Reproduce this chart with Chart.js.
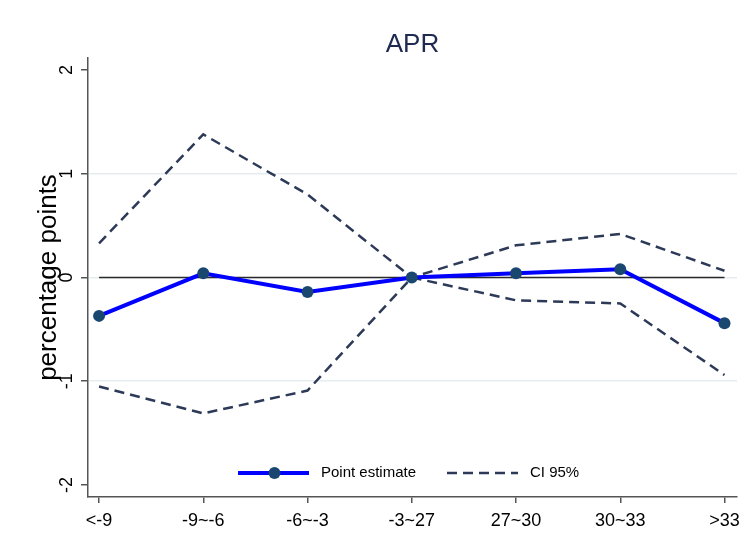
<!DOCTYPE html>
<html>
<head>
<meta charset="utf-8">
<script src="https://cdn.jsdelivr.net/npm/chart.js@4"></script>
<style>
  body { margin: 0; background: #fff; }
  #wrap { width: 751px; height: 551px; }
</style>
</head>
<body>
<div id="wrap"><canvas id="apr" width="751" height="551"></canvas></div>
<script>
// ===== Dados
const cats = ['<-9', '-9~-6', '-6~-3', '-3~27', '27~30', '30~33', '>33'];
const estimate = [-0.37, 0.04, -0.14, 0, 0.04, 0.08, -0.44];
const ciUpper = [0.33, 1.38, 0.80, 0, 0.31, 0.42, 0.065];
const ciLower = [-1.05, -1.31, -1.09, 0, -0.22, -0.25, -0.94];
const refLine = [0, 0, 0, 0, 0, 0, 0];
const yTicks = [-2, -1, 0, 1, 2];
const titleText = 'APR';
const yTitle = 'percentage points';

const FONT = "'Liberation Sans', Arial, sans-serif";
const AXIS = '#555';
const NAVY = '#1a476f';
const CI = '#2c3a58';

const pts = (arr) => arr.map((v, i) => ({ x: i, y: v }));

// ===== Textos: título, rótulos do eixo y e legenda
const decor = {
    id: 'decor',
    afterDraw(chart) {
        const { ctx, scales: { y } } = chart;
        ctx.save();
        // título
        ctx.fillStyle = '#1e2a50';
        ctx.font = `26px ${FONT}`;
        ctx.textAlign = 'center';
        ctx.textBaseline = 'alphabetic';
        ctx.fillText(titleText, (chart.chartArea.left + chart.chartArea.right) / 2, 52);

        // rótulos do eixo y (girados)
        ctx.fillStyle = '#000';
        ctx.font = `18px ${FONT}`;
        yTicks.forEach(v => {
            ctx.save();
            ctx.translate(71.5, y.getPixelForValue(v));
            ctx.rotate(-Math.PI / 2);
            ctx.fillText(String(v), 0, 0);
            ctx.restore();
        });

        // título do eixo y
        ctx.save();
        ctx.font = `26px ${FONT}`;
        ctx.translate(56, (chart.chartArea.top + chart.chartArea.bottom) / 2);
        ctx.rotate(-Math.PI / 2);
        ctx.fillText(yTitle, 0, 0);
        ctx.restore();

        // legenda
        const items = chart.data.datasets.filter(d => d.label);
        const starts = [238, 447];
        const ly = 473;
        ctx.font = `15px ${FONT}`;
        ctx.textAlign = 'left';
        ctx.textBaseline = 'middle';
        items.forEach((d, i) => {
            const x0 = starts[i];
            const x1 = x0 + 71;
            ctx.beginPath();
            ctx.strokeStyle = d.borderColor;
            ctx.lineWidth = d.borderWidth;
            ctx.setLineDash(d.borderDash || []);
            ctx.moveTo(x0, ly);
            ctx.lineTo(x1, ly);
            ctx.stroke();
            ctx.setLineDash([]);
            if (d.pointRadius) {
                ctx.beginPath();
                ctx.fillStyle = d.pointBackgroundColor;
                ctx.arc((x0 + x1) / 2 + 1, ly, d.pointRadius, 0, Math.PI * 2);
                ctx.fill();
            }
            ctx.fillStyle = '#000';
            ctx.fillText(d.label, x1 + 12, ly);
        });
        ctx.restore();
    }
};

new Chart(document.getElementById('apr'), {
    type: 'line',
    data: {
        datasets: [
            {
                label: 'Point estimate', data: pts(estimate), order: 0,
                borderColor: '#0000ff', borderWidth: 4, tension: 0,
                pointRadius: 6, pointBackgroundColor: NAVY, pointBorderWidth: 0
            },
            {
                label: 'CI 95%', data: pts(ciUpper), order: 1,
                borderColor: CI, borderWidth: 2.5, borderDash: [10, 6], pointRadius: 0, tension: 0
            },
            {
                label: '', data: pts(ciLower), order: 2,
                borderColor: CI, borderWidth: 2.5, borderDash: [10, 6], pointRadius: 0, tension: 0
            },
            {
                label: '', data: pts(refLine), order: 3,
                borderColor: '#2a2a2a', borderWidth: 1.7, pointRadius: 0, tension: 0
            }
        ]
    },
    options: {
        responsive: false,
        animation: false,
        layout: { padding: { top: 58, right: 14, left: 0, bottom: 0 } },
        plugins: { legend: { display: false }, title: { display: false }, tooltip: { enabled: false } },
        scales: {
            x: {
                type: 'linear', min: -0.106, max: 6.12,
                afterBuildTicks: s => { s.ticks = cats.map((c, i) => ({ value: i })); },
                afterFit: s => { s.height = 54; s.paddingLeft = 0; s.paddingRight = 0; },
                ticks: { callback: v => cats[v], font: { size: 18, family: FONT }, color: '#000', padding: 7, autoSkip: false, maxRotation: 0 },
                grid: { drawOnChartArea: false, color: AXIS, tickColor: AXIS, tickLength: 6, lineWidth: 1.5 },
                border: { color: AXIS, width: 1.5 }
            },
            y: {
                min: -2.116, max: 2.116,
                afterBuildTicks: s => { s.ticks = yTicks.map(v => ({ value: v })); },
                afterFit: s => { s.width = 88; s.paddingTop = 0; s.paddingBottom = 0; },
                ticks: { display: false },
                grid: {
                    color: c => (c.tick && Math.abs(c.tick.value) < 2 ? '#e6edf1' : 'rgba(0,0,0,0)'),
                    lineWidth: 1.5, tickColor: AXIS, tickLength: 7
                },
                border: { color: AXIS, width: 1.5 }
            }
        }
    },
    plugins: [decor]
});
</script>
</body>
</html>
